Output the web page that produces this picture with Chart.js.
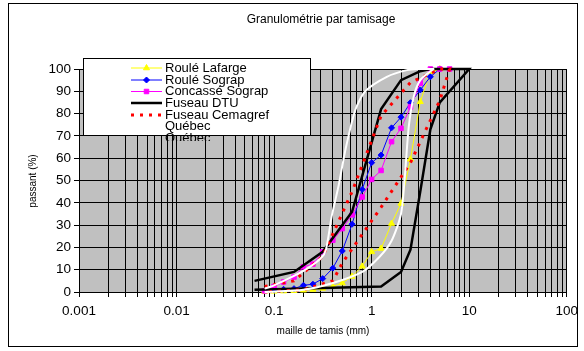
<!DOCTYPE html>
<html>
<head>
<meta charset="utf-8">
<script src="https://cdn.jsdelivr.net/npm/chart.js@4.4.1/dist/chart.umd.min.js"></script>
<style>
  body { margin: 0; background: #fff; }
  #wrap { width: 584px; height: 351px; }
</style>
</head>
<body>
<div id="wrap"><canvas id="myChart" width="584" height="351"></canvas></div>
<script>
// sieve sizes (mm) and passing (%)
const lafargeX = [0.08, 0.1, 0.125, 0.16, 0.2, 0.25, 0.315, 0.4, 0.5, 0.63, 0.8, 1, 1.25, 1.6, 2, 2.5, 3.15, 4, 5]
const lafargeY = [0.2, 0.3, 0.4, 0.6, 0.8, 1.1, 1.6, 2.5, 4, 7, 11.5, 18, 19.5, 30.7, 39.7, 59.5, 85.3, 98.8, 100]

const sograpX = [0.1, 0.125, 0.16, 0.2, 0.25, 0.315, 0.4, 0.5, 0.63, 0.8, 1, 1.25, 1.6, 2, 2.5, 3.15, 4, 5]
const sograpY = [1, 1.2, 1.5, 3, 3.5, 6, 10.7, 18.4, 30.4, 46, 58, 61.4, 73.6, 78.4, 84.9, 90.6, 96.5, 100]

const concasseX = [0.08, 0.1, 0.125, 0.16, 0.2, 0.25, 0.315, 0.4, 0.5, 0.63, 0.8, 1, 1.25, 1.6, 2, 2.5, 3.15, 4, 5, 6.3]
const concasseY = [0.5, 2.5, 4.5, 6.7, 11.3, 12.5, 18, 23.2, 28.4, 34.6, 42.6, 50.5, 54.5, 67.4, 73.4, 83, 93.6, 100, 100, 100]

// envelopes: up the fine limit, then back down the coarse limit
const dtuX = [0.063, 0.16, 0.315, 0.63, 1.25, 2, 3.15, 4, 10, 5, 4, 3.15, 2.5, 2, 1.25, 0.063]
const dtuY = [5, 9, 18, 36, 82, 95, 99, 100, 100, 85, 73, 45, 19, 9, 2.5, 1]

const cemagrefX = [0.08, 0.16, 0.315, 0.63, 1.25, 2.5, 5, 6.3, 5, 4, 2.5, 1.25, 0.5, 0.4, 0.2, 0.08]
const cemagrefY = [2.5, 5, 16, 45, 79, 94, 100, 100, 86, 77, 58, 38, 13, 5, 1, 0]

const fuseau2X = [0.08, 0.1, 0.2, 0.3, 0.34, 0.39, 0.46, 0.54, 0.68, 0.86, 1.43, 2.3, 3.15, 4.3, 4, 3.15, 2.7, 2.4, 2.2, 2, 1.6, 1.2, 0.8, 0.4, 0.2, 0.08]
const fuseau2Y = [1.5, 3, 9.5, 15, 19, 34, 48, 64, 81.6, 90, 96.5, 99.5, 100, 100, 99, 95, 87.6, 74, 53, 35, 23, 15.7, 9, 4, 1, 0]

const xTicks = [0.001, 0.01, 0.1, 1, 10, 100]
const yTicks = [0, 10, 20, 30, 40, 50, 60, 70, 80, 90, 100]

const pts = (xs, ys) => xs.map((x, i) => ({ x: x, y: ys[i] }))

const datasets = [
  { label: 'Roulé Lafarge', data: pts(lafargeX, lafargeY), borderColor: '#ffff00', backgroundColor: '#ffff00',
    borderWidth: 1, pointStyle: 'triangle', pointRadius: 3.5 },
  { label: 'Roulé Sograp', data: pts(sograpX, sograpY), borderColor: '#0000ff', backgroundColor: '#0000ff',
    borderWidth: 1, pointStyle: 'rectRot', pointRadius: 3 },
  { label: 'Concassé Sograp', data: pts(concasseX, concasseY), borderColor: '#ff00ff', backgroundColor: '#ff00ff',
    borderWidth: 1, pointStyle: 'rect', pointRadius: 3.2 },
  { label: 'Fuseau DTU', data: pts(dtuX, dtuY), borderColor: '#000000', borderWidth: 2.5, pointRadius: 0 },
  { label: 'Fuseau Cemagref Québec', data: pts(cemagrefX, cemagrefY), borderColor: '#ff0000', borderWidth: 3,
    borderDash: [3, 6], pointRadius: 0 },
  { label: 'Québec', data: pts(fuseau2X, fuseau2Y), borderColor: '#ffffff', borderWidth: 2, pointRadius: 0, tension: 0.25 }
]
datasets.forEach((d, i) => {
  d.showLine = true
  d.fill = false
  d.clip = false
  d.order = 10 - i
})

const FONT = '"Liberation Sans", Arial, sans-serif'

const decor = {
  id: 'decor',
  beforeDraw(chart) {
    const c = chart.ctx, a = chart.chartArea
    c.save()
    c.fillStyle = '#fff'
    c.fillRect(0, 0, chart.width, chart.height)
    c.strokeStyle = '#000'
    c.lineWidth = 1
    c.strokeRect(8.5, 3.5, 569, 343)
    c.fillStyle = '#c0c0c0'
    c.fillRect(a.left, a.top, a.right - a.left, a.bottom - a.top)
    c.restore()
  },
  afterDraw(chart) {
    const c = chart.ctx
    c.save()
    c.fillStyle = '#000'
    c.textAlign = 'center'
    c.textBaseline = 'middle'
    c.font = '12px ' + FONT
    c.fillText('Granulométrie par tamisage', 321, 20)
    c.font = '10px ' + FONT
    c.fillText('maille de tamis (mm)', 323, 331)
    c.translate(33, 181)
    c.rotate(-Math.PI / 2)
    c.fillText('passant (%)', 0, 0)
    c.restore()

    // legend box drawn over the plot
    c.save()
    c.fillStyle = '#fff'
    c.fillRect(83, 58, 227, 77)
    c.strokeStyle = '#000'
    c.lineWidth = 1
    c.strokeRect(83.5, 58.5, 227, 77)
    c.beginPath()
    c.rect(84, 59, 226, 82)
    c.clip()
    const rows = [68, 80, 91.5, 103, 115, 138]
    c.font = '13px ' + FONT
    c.textAlign = 'left'
    c.textBaseline = 'middle'
    datasets.forEach((d, i) => {
      const y = rows[i]
      if (d.borderColor !== '#ffffff') {
        c.save()
        c.strokeStyle = d.borderColor
        c.lineWidth = d.borderWidth
        c.setLineDash(d.borderDash || [])
        c.beginPath()
        c.moveTo(131, y)
        c.lineTo(162, y)
        c.stroke()
        c.restore()
      }
      if (d.pointRadius) {
        c.save()
        c.fillStyle = d.backgroundColor
        c.strokeStyle = d.borderColor
        c.lineWidth = 1
        Chart.helpers.drawPoint(c, { pointStyle: d.pointStyle, radius: d.pointRadius, borderWidth: 1, rotation: 0 }, 146.5, y)
        c.restore()
      }
      c.fillStyle = '#000'
      const txt = i === 4 ? 'Fuseau Cemagref' : d.label
      c.fillText(txt, 165, y)
      if (i === 4) c.fillText('Québec', 165, y + 11.5)
    })
    c.restore()
  }
}

const config = {
  type: 'scatter',
  data: { datasets },
  options: {
    responsive: false,
    animation: false,
    layout: { padding: { top: 69, right: 15, left: 0, bottom: 0 } },
    plugins: { legend: { display: false }, tooltip: { enabled: false }, title: { display: false } },
    scales: {
      x: {
        type: 'logarithmic',
        min: 0.001,
        max: 100,
        afterFit: s => { s.height = 59 },
        afterBuildTicks: s => {
          const t = []
          for (let e = -3; e < 2; e++) {
            for (let m = 1; m < 10; m++) t.push({ value: m * Math.pow(10, e) })
          }
          t.push({ value: 100 })
          s.ticks = t
        },
        ticks: {
          autoSkip: false,
          maxRotation: 0,
          padding: 6,
          color: '#000',
          font: { family: FONT, size: 13.5 },
          callback: v => xTicks.includes(+v.toPrecision(6)) ? String(+v.toPrecision(6)) : ''
        },
        grid: { color: '#000', lineWidth: 1, tickLength: 5, tickColor: '#000' },
        border: { color: '#000', width: 1 }
      },
      y: {
        min: 0,
        max: 100,
        afterFit: s => { s.width = 79 },
        afterBuildTicks: s => { s.ticks = yTicks.map(v => ({ value: v })) },
        ticks: {
          padding: 3,
          color: '#000',
          font: { family: FONT, size: 13.5 }
        },
        grid: { color: '#000', lineWidth: 1, tickLength: 5, tickColor: '#000' },
        border: { color: '#000', width: 1 }
      }
    }
  },
  plugins: [decor]
}

const myChart = new Chart(document.getElementById('myChart'), config)
</script>
</body>
</html>
